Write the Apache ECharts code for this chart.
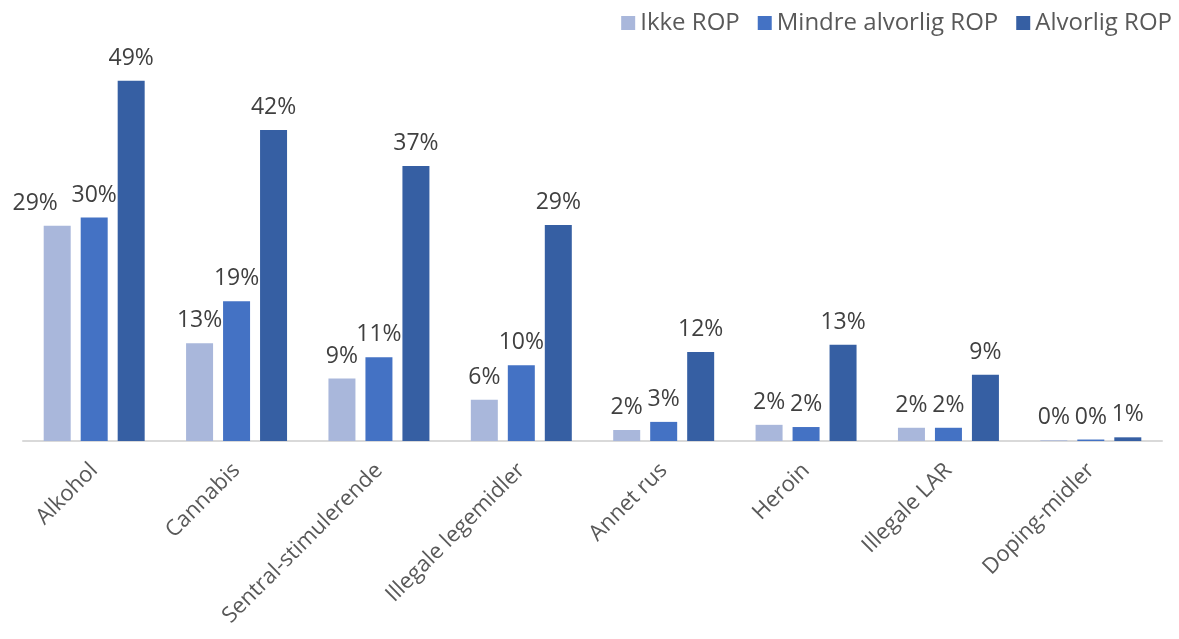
<!DOCTYPE html>
<html><head><meta charset="utf-8">
<script src="https://cdn.jsdelivr.net/npm/echarts@6/dist/echarts.min.js"></script>
<style>html,body{margin:0;padding:0;background:#fff}#c{width:1179px;height:639px}</style>
</head><body><div id="c"></div>
<script>
const categories = ['Alkohol','Cannabis','Sentral-stimulerende','Illegale legemidler','Annet rus','Heroin','Illegale LAR','Doping-midler'];
const seriesNames = ['Ikke ROP','Mindre alvorlig ROP','Alvorlig ROP'];
const ikkeROP = [29.3, 13.3, 8.5, 5.6, 1.5, 2.2, 1.8, 0.1];
const mindreROP = [30.4, 19.0, 11.4, 10.3, 2.6, 1.9, 1.8, 0.2];
const alvorligROP = [49.0, 42.3, 37.4, 29.4, 12.1, 13.1, 9.0, 0.5];
const colors = ['#A9B7DB','#4472C4','#365FA3'];
const font = 'Open Sans, Liberation Sans, sans-serif';
const chart = echarts.init(document.getElementById('c'));
const mk = (name, data, i) => ({
  name, type:'bar', barWidth:27, barGap:'37%',
  data: data.map((v, j) => (i === 0 && j === 0) ? {value:v, label:{offset:[-22,0]}} : v),
  itemStyle:{color:colors[i]},
  label:{show:true, position:'top', distance:11, color:'#404040', fontSize:23, fontFamily:font,
    formatter:p=>Math.round(p.value)+'%'}
});
chart.setOption({
  animation:false,
  legend:{top:6, right:2, itemWidth:14, itemHeight:14, itemGap:18,
    textStyle:{color:'#595959', fontSize:24, fontFamily:font},
    data:seriesNames.map(n=>({name:n, icon:'rect'}))},
  grid:{left:23, right:17, top:73.5, bottom:198},
  xAxis:{type:'category', data:categories,
    axisLine:{lineStyle:{color:'#D9D9D9', width:2}}, axisTick:{show:false},
    axisLabel:{rotate:45, color:'#595959', fontSize:22, fontFamily:font, interval:0, margin:26}},
  yAxis:{type:'value', min:0, max:50, show:false, splitLine:{show:false}},
  series:[mk(seriesNames[0], ikkeROP,0), mk(seriesNames[1], mindreROP,1), mk(seriesNames[2], alvorligROP,2)]
});
</script></body></html>
